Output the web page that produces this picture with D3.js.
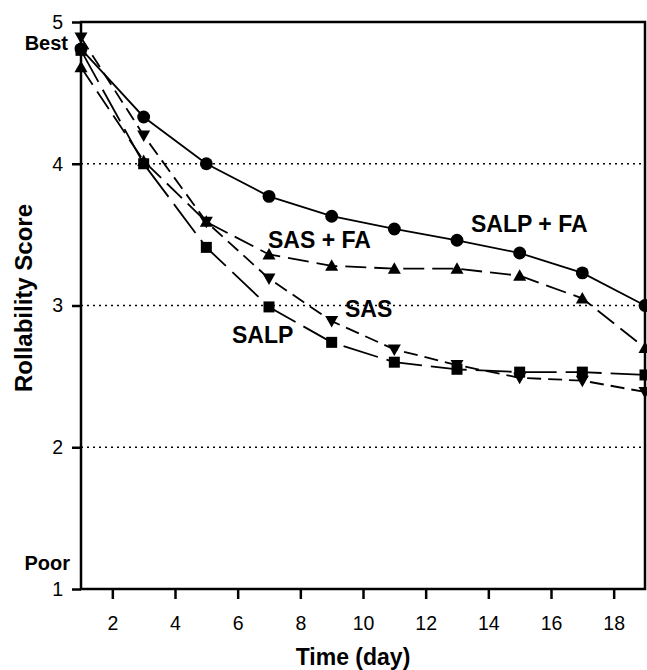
<!DOCTYPE html>
<html>
<head>
<meta charset="utf-8">
<script src="https://cdn.jsdelivr.net/npm/d3@7"></script>
<style>
  html, body { margin: 0; padding: 0; background: #fff; }
  svg { display: block; font-family: "Liberation Sans", Arial, Helvetica, sans-serif; }
</style>
</head>
<body>
<svg id="chart" width="647" height="670"></svg>
<script>
const days = [1, 3, 5, 7, 9, 11, 13, 15, 17, 19];
const salpFA = [4.81, 4.33, 4.00, 3.77, 3.63, 3.54, 3.46, 3.37, 3.23, 3.00];
const sasFA  = [4.68, 4.02, 3.59, 3.36, 3.28, 3.26, 3.26, 3.21, 3.05, 2.70];
const sas    = [4.89, 4.20, 3.59, 3.19, 2.89, 2.69, 2.58, 2.49, 2.47, 2.39];
const salp   = [4.80, 4.00, 3.41, 2.99, 2.74, 2.60, 2.55, 2.53, 2.53, 2.51];
const xTicks = [2, 4, 6, 8, 10, 12, 14, 16, 18];
const yTicks = [1, 2, 3, 4, 5];
const gridValues = [2, 3, 4];
const seriesNames = ["SALP + FA", "SAS + FA", "SAS", "SALP"];

(function () {
const svg = d3.select("#chart");
const mL = 81, mR = 645, mT = 22, mB = 589;

const x = d3.scaleLinear().domain([1, 19]).range([mL, mR]);
const y = d3.scaleLinear().domain([1, 5]).range([mB, mT]);

// dotted gridlines
svg.append("g").selectAll("line").data(gridValues).join("line")
  .attr("x1", mL).attr("x2", mR)
  .attr("y1", d => y(d)).attr("y2", d => y(d))
  .attr("stroke", "#000").attr("stroke-width", 1.5)
  .attr("stroke-dasharray", "2,4");

// series
const series = [
  { name: seriesNames[0], values: salpFA, dash: null,   symbol: "circle" },
  { name: seriesNames[1], values: sasFA,  dash: "21,8", symbol: "up" },
  { name: seriesNames[2], values: sas,    dash: "14,7", symbol: "down" },
  { name: seriesNames[3], values: salp,   dash: "36,9", symbol: "square" }
];

const line = d3.line().x(d => x(d[0])).y(d => y(d[1]));

series.forEach(s => {
  const pts = days.map((d, i) => [d, s.values[i]]);
  svg.append("path")
    .datum(pts)
    .attr("d", line)
    .attr("fill", "none")
    .attr("stroke", "#000")
    .attr("stroke-width", 1.8)
    .attr("stroke-dasharray", s.dash);
});

function symbolPath(type) {
  if (type === "circle") return d3.symbol(d3.symbolCircle, 130)();
  if (type === "square") return "M-5.5,-5.5H5.5V5.5H-5.5Z";
  if (type === "up") return "M0,-6.5L6.5,5L-6.5,5Z";
  return "M0,6.5L6.5,-5L-6.5,-5Z";
}

series.forEach(s => {
  svg.append("g").selectAll("path").data(days.map((d, i) => [d, s.values[i]])).join("path")
    .attr("transform", d => `translate(${x(d[0])},${y(d[1])})`)
    .attr("d", symbolPath(s.symbol))
    .attr("fill", "#000");
});

// frame
svg.append("rect")
  .attr("x", mL).attr("y", mT)
  .attr("width", mR - mL).attr("height", mB - mT)
  .attr("fill", "none").attr("stroke", "#000").attr("stroke-width", 2.5);

// axes
const yAxis = d3.axisLeft(y).tickValues(yTicks).tickFormat(d3.format("d")).tickSize(9).tickPadding(9);
const gy = svg.append("g").attr("transform", `translate(${mL},0)`).call(yAxis);
gy.select(".domain").remove();
gy.selectAll(".tick line").attr("stroke-width", 2.5);
gy.selectAll(".tick text").attr("font-size", 19.5).attr("font-family", "Liberation Sans, Arial, sans-serif").attr("fill", "#000");

const xAxis = d3.axisBottom(x).tickValues(xTicks).tickFormat(d3.format("d")).tickSize(10).tickPadding(17);
const gx = svg.append("g").attr("transform", `translate(0,${mB})`).call(xAxis);
gx.select(".domain").remove();
gx.selectAll(".tick line").attr("stroke-width", 2.5);
gx.selectAll(".tick text").attr("font-size", 19.5).attr("font-family", "Liberation Sans, Arial, sans-serif").attr("fill", "#000");

// Best / Poor
svg.append("text").attr("x", 68).attr("y", 50).attr("text-anchor", "end")
  .attr("font-size", 20).attr("font-weight", "bold").text("Best");
svg.append("text").attr("x", 70).attr("y", 570).attr("text-anchor", "end")
  .attr("font-size", 20).attr("font-weight", "bold").text("Poor");

// axis titles
svg.append("text")
  .attr("transform", `translate(32,298) rotate(-90)`)
  .attr("text-anchor", "middle")
  .attr("font-size", 24).attr("font-weight", "bold").text("Rollability Score");
svg.append("text")
  .attr("x", 353).attr("y", 665).attr("text-anchor", "middle")
  .attr("font-size", 23).attr("font-weight", "bold").text("Time (day)");

// series labels
const labels = [
  { text: seriesNames[0], lx: 471, ly: 232 },
  { text: seriesNames[1], lx: 268, ly: 248 },
  { text: seriesNames[2], lx: 345, ly: 317 },
  { text: seriesNames[3], lx: 232, ly: 343 }
];
svg.append("g").selectAll("text").data(labels).join("text")
  .attr("x", d => d.lx).attr("y", d => d.ly)
  .attr("font-size", 23).attr("font-weight", "bold")
  .text(d => d.text);
})();
</script>
</body>
</html>
